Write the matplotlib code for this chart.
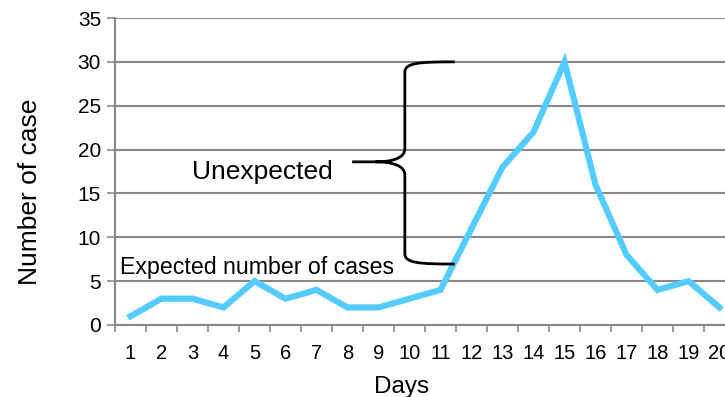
import matplotlib.pyplot as plt
from matplotlib.path import Path
from matplotlib.patches import PathPatch

days = list(range(1, 21))
cases = [1, 3, 3, 2, 5, 3, 4, 2, 2, 3, 4, 11, 18, 22, 30, 16, 8, 4, 5, 2]
y_ticks = [0, 5, 10, 15, 20, 25, 30, 35]

plt.rcParams["font.family"] = ["Liberation Sans", "DejaVu Sans"]

fig = plt.figure(figsize=(7.25, 3.97), dpi=100)
ax = fig.add_axes([115 / 725, 72 / 397, 620 / 725, 307 / 397])

ax.plot(days, cases, color="#55ccff", linewidth=4.5, solid_joinstyle="miter", zorder=3)

ax.set_xlim(0.5, 20.5)
ax.set_ylim(0, 35)
ax.set_yticks(y_ticks)
ax.set_xticks(days)
ax.set_xticks([d - 0.5 for d in days] + [20.5], minor=True)
ax.tick_params(axis="x", which="major", length=0, pad=14, labelsize=14.5)
ax.tick_params(axis="x", which="minor", length=5, width=1.2, color="#888888")
ax.tick_params(axis="y", length=6, width=1.2, color="#888888", labelsize=15, pad=4)

ax.grid(axis="y", color="#888888", linewidth=1.5)
ax.set_axisbelow(True)
for side in ["top", "right"]:
    ax.spines[side].set_visible(False)
for side in ["left", "bottom"]:
    ax.spines[side].set_color("#888888")
    ax.spines[side].set_linewidth(1.5)

ax.set_xlabel("Days", fontsize=17.5)
ax.xaxis.set_label_coords(0.463, -0.165)
ax.set_ylabel("Number of case", fontsize=19)
ax.yaxis.set_label_coords(-0.117, 0.433)

# curly brace marking the unexpected part of the curve
xr, xv, xt = 11.46, 9.85, 8.15
yt, ym, yb = 30.0, 18.6, 6.95
verts = [
    (xr, yt), (10.3, yt), (xv, yt - 0.1), (xv, yt - 1.2),
    (xv, ym + 1.5),
    (xv, ym + 0.5), (9.5, ym), (8.9, ym),
    (xt, ym),
    (8.9, ym), (9.5, ym), (xv, ym - 0.5), (xv, ym - 1.5),
    (xv, yb + 1.2),
    (xv, yb + 0.1), (10.3, yb), (xr, yb),
]
codes = [Path.MOVETO, Path.CURVE4, Path.CURVE4, Path.CURVE4,
         Path.LINETO,
         Path.CURVE4, Path.CURVE4, Path.CURVE4,
         Path.LINETO,
         Path.MOVETO, Path.CURVE4, Path.CURVE4, Path.CURVE4,
         Path.LINETO,
         Path.CURVE4, Path.CURVE4, Path.CURVE4]
ax.add_patch(PathPatch(Path(verts, codes), fill=False, edgecolor="black", linewidth=2, zorder=4))

ax.text(2.98, 17.4, "Unexpected", fontsize=19, ha="left", va="center")
ax.text(0.66, 6.5, "Expected number of cases", fontsize=16.7, ha="left", va="center")

fig.savefig("out.png", dpi=100)
